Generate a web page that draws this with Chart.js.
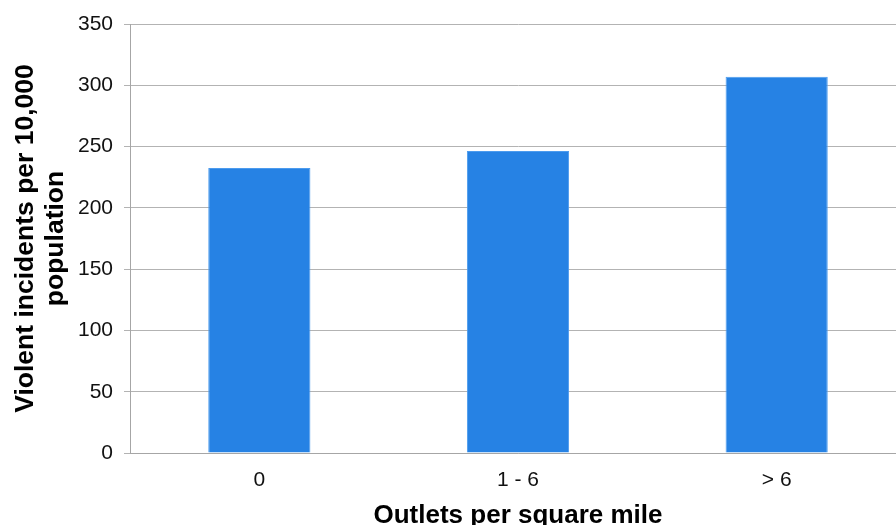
<!DOCTYPE html>
<html>
<head>
<meta charset="utf-8">
<script src="https://cdn.jsdelivr.net/npm/chart.js@4/dist/chart.umd.min.js"></script>
<style>
  html, body { margin: 0; padding: 0; background: #fff; overflow: hidden; }
  #wrap { width: 896px; height: 525px; overflow: hidden; position: relative; }
  canvas { display: block; }
</style>
</head>
<body>
<div id="wrap"><canvas id="c" width="906" height="540"></canvas></div>
<script>
// Outlet density bands and violent incident rates
const categories = ["0", "1 - 6", "> 6"];
const incidentRates = [232.5, 246.4, 307];
const yTickMax = 350;
const yTickStep = 50;
const xTitle = "Outlets per square mile";
const yTitle = ["Violent incidents per 10,000", "population"];

const FONT = "'Liberation Sans', Arial, sans-serif";

new Chart(document.getElementById("c"), {
  type: "bar",
  data: {
    labels: categories,
    datasets: [{
      data: incidentRates,
      backgroundColor: "#2682E4",
      borderColor: "#4C9BEE",
      borderWidth: 1,
      borderSkipped: "bottom",
      categoryPercentage: 1,
      barPercentage: 0.395
    }]
  },
  options: {
    responsive: false,
    devicePixelRatio: 1,
    animation: false,
    layout: { padding: { top: 24, left: 0, right: 0, bottom: 0 } },
    plugins: { legend: { display: false }, tooltip: { enabled: false } },
    scales: {
      x: {
        grid: { display: false, drawTicks: false },
        border: { display: true, color: "#a6a6a6", width: 1 },
        ticks: { color: "#111", font: { family: FONT, size: 21 }, padding: 15 },
        title: {
          display: true, text: xTitle, color: "#000",
          font: { family: FONT, size: 26, weight: "bold", lineHeight: 1.2 },
          padding: { top: 0, bottom: 9 }
        },
        afterFit(scale) { scale.height = 87; }
      },
      y: {
        min: 0, max: yTickMax,
        grid: { color: "#b3b3b3", lineWidth: 1, tickLength: 6, drawTicks: true },
        border: { display: true, color: "#a6a6a6", width: 1 },
        ticks: { stepSize: yTickStep, color: "#111", font: { family: FONT, size: 21 }, padding: 11 },
        title: {
          display: true, text: yTitle, color: "#000",
          font: { family: FONT, size: 26.5, weight: "bold", lineHeight: 1.13 },
          padding: { top: 11, bottom: 0 }
        },
        afterFit(scale) { scale.width = 130; }
      }
    }
  }
});
</script>
</body>
</html>
